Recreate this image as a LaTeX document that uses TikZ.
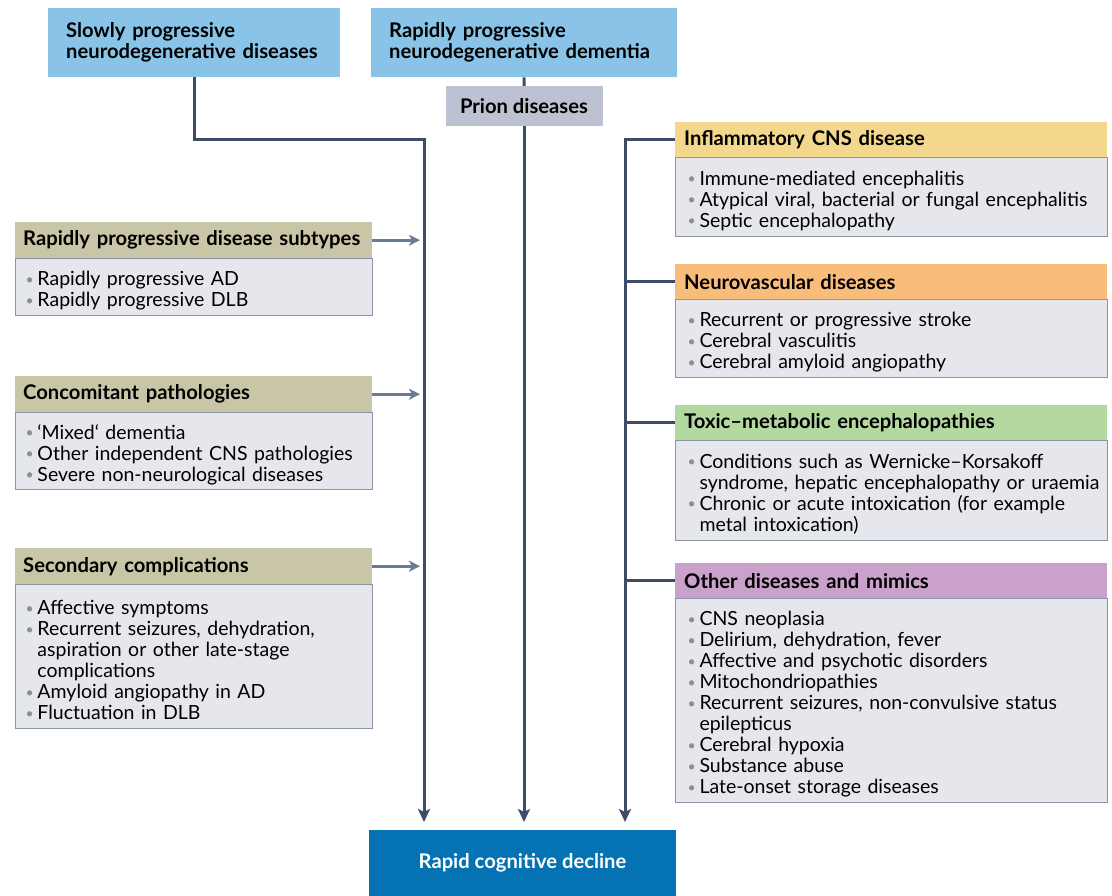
\documentclass[tikz,border=0pt]{standalone}
\usepackage{fontspec}
\setmainfont{Lato}
\usetikzlibrary{positioning,arrows.meta}

\definecolor{topblue}{HTML}{89C4E8}
\definecolor{priongrey}{HTML}{BDC2D3}
\definecolor{hdrtan}{HTML}{C9C6A8}
\definecolor{bodygrey}{HTML}{E6E7EC}
\definecolor{bodyline}{HTML}{8D95A5}
\definecolor{bulgrey}{HTML}{8A8F98}
\definecolor{inflyellow}{HTML}{F2D78C}
\definecolor{neuroorange}{HTML}{F9BD7B}
\definecolor{toxicgreen}{HTML}{B3D9A1}
\definecolor{otherpurple}{HTML}{C9A1CB}
\definecolor{declblue}{HTML}{0472B3}
\definecolor{linec}{HTML}{3E4C68}
\definecolor{sidec}{HTML}{6A7B98}

\newcommand{\hdrfont}{\bfseries\fontsize{20.2}{21}\selectfont}
\newcommand{\bodyfont}{\fontsize{19.5}{21}\selectfont}
\newcommand{\bitem}{\par\hangindent=12pt\hangafter=1\noindent\makebox[12pt][l]{\raisebox{1.5pt}{\textcolor{bulgrey}{\fontsize{14}{14}\selectfont\textbullet}}}}
\newcommand{\nl}{\break}

\begin{document}
\begin{tikzpicture}[x=1pt, y=-1pt,
  topbox/.style={fill=topblue, anchor=north west, inner xsep=18pt, inner ysep=0pt, minimum height=69pt, align=left, font=\hdrfont},
  hdrL/.style={fill=hdrtan, anchor=north west, inner xsep=8pt, inner ysep=0pt, minimum height=36pt, text width=341pt, align=left, font=\hdrfont},
  hdrR/.style={anchor=north west, inner xsep=9pt, inner ysep=0pt, minimum height=35pt, text width=414pt, align=left, font=\hdrfont},
  bodyL/.style={fill=bodygrey, draw=bodyline, line width=1pt, anchor=north west, inner xsep=10pt, inner ysep=0pt, text width=337pt, align=left, font=\bodyfont},
  bodyR/.style={fill=bodygrey, draw=bodyline, line width=1pt, anchor=north west, inner xsep=5pt, inner ysep=0pt, text width=422pt, align=left, font=\bodyfont, execute at begin node={\leftskip=7pt}},
  flow/.style={draw=linec, line width=3pt},
  flowarr/.style={flow, -{Stealth[length=13pt, width=12pt, inset=3pt]}},
  sidearr/.style={draw=sidec, line width=3pt, -{Stealth[length=11pt, width=11pt, inset=3pt]}}
]
\useasboundingbox (0,0) rectangle (1112,896);

% top row
\node[topbox, text width=256pt] (slow) at (48,8) {Slowly progressive\\neurodegenerative diseases};
\node[topbox, text width=270pt] (rapid) at (371,8) {Rapidly progressive\\neurodegenerative dementia};
\node[fill=priongrey, minimum width=157pt, minimum height=40pt, inner sep=0pt, font=\hdrfont] (prion) at (524,106) {Prion diseases};

% left column
\node[hdrL] (subt) at (15,222) {Rapidly progressive disease subtypes};
\node[bodyL, minimum height=57pt] (subtb) at (subt.south west) {\bitem Rapidly progressive AD\bitem Rapidly progressive DLB\par};
\node[hdrL] (conc) at (15,376) {Concomitant pathologies};
\node[bodyL, minimum height=77pt] (concb) at (conc.south west) {\bitem ‘Mixed‘ dementia\bitem Other independent CNS pathologies\bitem Severe non-neurological diseases\par};
\node[hdrL] (seco) at (15,548) {Secondary complications};
\node[bodyL, minimum height=144pt] (secob) at (seco.south west) {\bitem Affective symptoms\bitem Recurrent seizures, dehydration,\nl aspiration or other late-stage\nl complications\bitem Amyloid angiopathy in AD\bitem Fluctuation in DLB\par};

% right column
\node[hdrR, fill=inflyellow] (infl) at (675,122) {Inflammatory CNS disease};
\node[bodyR, minimum height=79pt] (inflb) at (infl.south west) {\bitem Immune-mediated encephalitis\bitem Atypical viral, bacterial or fungal encephalitis\bitem Septic encephalopathy\par};
\node[hdrR, fill=neuroorange] (neuro) at (675,264) {Neurovascular diseases};
\node[bodyR, minimum height=78pt] (neurob) at (neuro.south west) {\bitem Recurrent or progressive stroke\bitem Cerebral vasculitis\bitem Cerebral amyloid angiopathy\par};
\node[hdrR, fill=toxicgreen] (toxic) at (675,405) {Toxic--metabolic encephalopathies};
\node[bodyR, minimum height=100pt] (toxicb) at (toxic.south west) {\bitem Conditions such as Wernicke--Korsakoff\nl syndrome, hepatic encephalopathy or uraemia\bitem Chronic or acute intoxication (for example\nl metal intoxication)\par};
\node[hdrR, fill=otherpurple] (other) at (675,563) {Other diseases and mimics};
\node[bodyR, minimum height=204pt] (otherb) at (other.south west) {\bitem CNS neoplasia\bitem Delirium, dehydration, fever\bitem Affective and psychotic disorders\bitem Mitochondriopathies\bitem Recurrent seizures, non-convulsive status\nl epilepticus\bitem Cerebral hypoxia\bitem Substance abuse\bitem Late-onset storage diseases\par};

% outcome
\node[fill=declblue, text=white, minimum width=307pt, minimum height=66pt, inner sep=0pt, font=\hdrfont] (decline) at (522.5,863) {Rapid cognitive decline};

\coordinate (aL) at (424,822);
\coordinate (aM) at (524,822);
\coordinate (aR) at (625,822);

% connectors
\draw[flowarr] (slow.south) |- (infl.west -| aL) -- (aL);
\draw[flow] (rapid.south) -- (prion.north);
\draw[flowarr] (prion.south) -- (aM);
\draw[flowarr] (infl.west) -| (aR);
\foreach \n in {neuro,toxic,other}
  \draw[flow] (\n.west) -- (\n.west -| aR);
\foreach \n in {subt,conc,seco}
  \draw[sidearr] (\n.east) -- ([xshift=-4pt]\n.east -| aL);

\end{tikzpicture}
\end{document}
